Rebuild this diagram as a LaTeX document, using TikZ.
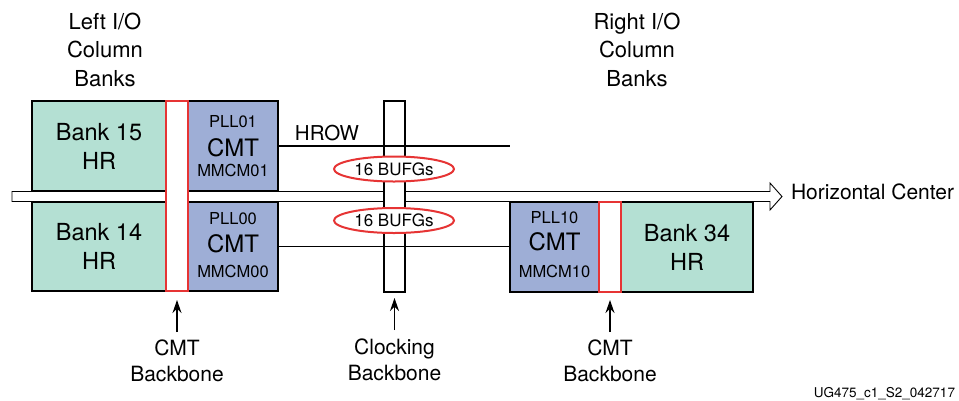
\documentclass[tikz,border=0pt]{standalone}
\usepackage{fontspec}
\setmainfont{TeX Gyre Heros}
\usetikzlibrary{arrows.meta,shapes.geometric}
\definecolor{bankfill}{RGB}{180,224,211}
\definecolor{cmtfill}{RGB}{158,174,214}
\definecolor{bbred}{RGB}{230,52,52}
\newcommand\fsS{\fontsize{16.5}{20}\selectfont}
\newcommand\fsB{\fontsize{24}{28}\selectfont}
\begin{document}
\begin{tikzpicture}[x=1pt,y=-1pt,
  every node/.style={inner sep=0pt, outer sep=0pt},
  bankbox/.style={draw=black, line width=2.6pt, fill=bankfill, align=center, font=\fontsize{23.5}{29}\selectfont},
  cmtbox/.style={draw=black, line width=2.6pt, fill=cmtfill},
  smalltxt/.style={anchor=base, font=\fsS},
  bigtxt/.style={anchor=base, font=\fsB},
  redbox/.style={draw=bbred, line width=2pt, fill=white},
  clkbox/.style={draw=black, line width=1.1pt, fill=white},
  bufg/.style={ellipse, draw=bbred, line width=2pt, fill=white, minimum width=120pt, minimum height=25pt, font=\fontsize{17}{20}\selectfont},
  lbl/.style={align=center, font=\fontsize{21}{26}\selectfont},
  toplbl/.style={align=center, font=\fontsize{22}{28.5}\selectfont},
  arr/.style={line width=1.2pt, -{Stealth[length=13pt,width=9pt]}},
  wire/.style={line width=1.1pt}
]
\useasboundingbox (0,0) rectangle (959,400);

% horizontal center arrow
\coordinate (hcS) at (12,196.5);
\coordinate (hcT) at (782,196.5);
\draw[line width=0.9pt, fill=white] (hcS) ++(0,-5) -- ++(758,0) -- ++(0,-8.5) -- (hcT) -- ++(-12,13.5) -- ++(0,-8.5) -- ++(-758,0) -- cycle;
\node[anchor=west, font=\fontsize{21}{25}\selectfont] (hc) at (791,191.5) {Horizontal Center};

% banks
\node[bankbox, minimum width=134pt, minimum height=90pt] (b15) at (99,146) {Bank 15\\HR};
\node[bankbox, minimum width=134pt, minimum height=89pt] (b14) at (99,246.5) {Bank 14\\HR};
\node[bankbox, minimum width=132pt, minimum height=90pt] (b34) at (687,247) {Bank 34\\HR};

% CMTs
\node[cmtbox, minimum width=90pt, minimum height=90pt] (c01) at (233,146) {};
\node[smalltxt] (c01p) at ([yshift=-26pt]c01.north) {PLL01};
\node[bigtxt]   (c01c) at ([yshift=-55pt]c01.north) {CMT};
\node[smalltxt] (c01m) at ([yshift=-75pt]c01.north) {MMCM01};

\node[cmtbox, minimum width=90pt, minimum height=89pt] (c00) at (233,246.5) {};
\node[smalltxt] (c00p) at ([yshift=-22pt]c00.north) {PLL00};
\node[bigtxt]   (c00c) at ([yshift=-50pt]c00.north) {CMT};
\node[smalltxt] (c00m) at ([yshift=-75pt]c00.north) {MMCM00};

\node[cmtbox, minimum width=89pt, minimum height=90pt] (c10) at (554.5,247) {};
\node[smalltxt] (c10p) at ([yshift=-21pt]c10.north) {PLL10};
\node[bigtxt]   (c10c) at ([yshift=-48pt]c10.north) {CMT};
\node[smalltxt] (c10m) at ([yshift=-75pt]c10.north) {MMCM10};

% CMT backbones
\node[redbox, minimum width=22pt, minimum height=190pt] (redL) at (177,196) {};
\node[redbox, minimum width=22pt, minimum height=90pt] (redR) at (610,247) {};

% clocking backbone
\node[clkbox, minimum width=21pt, minimum height=191pt] (clk) at (394.5,196.5) {};

% HROW lines
\coordinate (hrowE) at (510,147);
\draw[wire] (c01.east) -- (hrowE |- c01.east);
\draw[wire] (c00.east) -- (c00.east -| c10.west);
\node[anchor=base, font=\fontsize{20.5}{24}\selectfont] (hrow) at (327,140) {HROW};

% BUFGs
\node[bufg] (bufgA) at (394,169) {16 BUFGs};
\node[bufg] (bufgB) at (394,220.5) {16 BUFGs};

% top labels
\node[toplbl, anchor=north] (leftio) at (105,13) {Left I/O\\Column\\Banks};
\node[toplbl, anchor=north] (rightio) at (637,13) {Right I/O\\Column\\Banks};

% bottom labels
\node[lbl, anchor=south] (lblL) at (177,382) {CMT\\Backbone};
\node[lbl, anchor=south] (lblC) at (394.5,381) {Clocking\\Backbone};
\node[lbl, anchor=south] (lblR) at (610,382) {CMT\\Backbone};
\draw[arr] ([yshift=8pt]lblL.north) -- ([yshift=-9pt]redL.south);
\draw[arr] ([yshift=9pt]lblC.north) -- ([yshift=-6pt]clk.south);
\draw[arr] ([yshift=8pt]lblR.north) -- ([yshift=-8pt]redR.south);

\node[anchor=base east, font=\fontsize{13.5}{16}\selectfont] (id) at (955,397) {UG475\_c1\_S2\_042717};
\end{tikzpicture}
\end{document}
